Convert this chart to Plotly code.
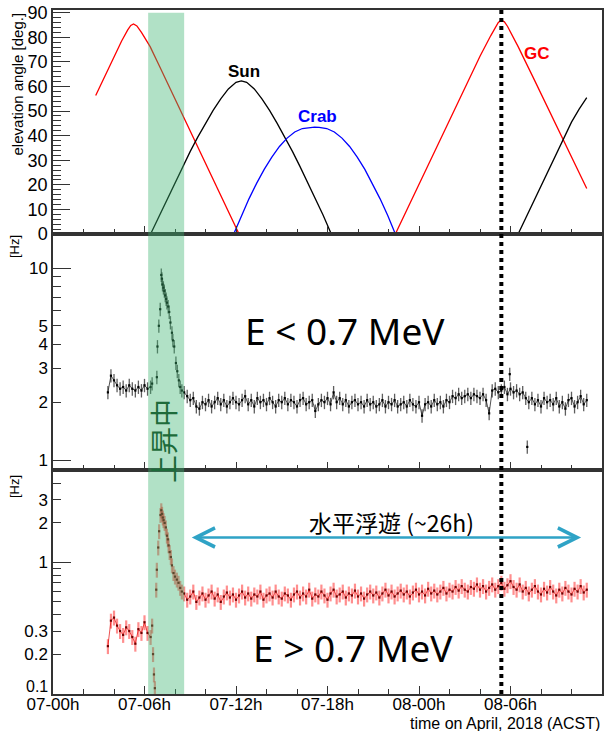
import numpy as np
import plotly.graph_objects as go

# ---------------- elevation angles (hours since 07 Apr 00:00 ACST, degrees) -------------
gc_t1 = [2.8, 3.5, 4.0, 4.5, 4.9, 5.1, 5.28, 5.5, 5.8, 6.37, 7.0, 8.0, 9.0, 10.0, 11.0, 12.2]
gc_v1 = [56.3, 65.5, 72.0, 78.5, 83.0, 84.8, 85.4, 84.6, 82.0, 76.2, 68.0, 55.0, 41.7, 28.7, 15.7, 0.0]
gc_t2 = [22.45, 23.0, 24.0, 25.0, 26.0, 27.0, 28.0, 28.7, 29.0, 29.2, 29.4, 29.6, 29.8, 30.1, 30.5,
         31.5, 32.5, 33.3, 34.0, 35.0]
gc_v2 = [0.0, 7.2, 20.3, 33.4, 46.5, 59.5, 72.3, 80.6, 84.0, 86.0, 86.9, 86.3, 84.5, 81.0, 76.2,
         63.5, 50.8, 40.6, 31.7, 18.5]
sun_t1 = [6.4, 7.0, 7.5, 8.0, 8.5, 9.0, 9.5, 10.0, 10.5, 11.0, 11.5, 12.0, 12.35, 12.7, 13.2, 13.7,
          14.2, 14.7, 15.2, 15.7, 16.2, 16.7, 17.2, 17.7, 18.25]
sun_v1 = [0.0, 7.8, 14.5, 21.0, 27.4, 33.6, 39.5, 45.0, 50.3, 55.0, 59.0, 61.7, 62.3, 61.7, 59.0, 55.0,
          50.3, 45.0, 39.5, 33.6, 27.4, 21.0, 14.5, 7.8, 0.0]
sun_t2 = [30.5, 31.5, 32.5, 33.3, 34.0, 34.5, 35.0]
sun_v2 = [0.0, 13.2, 26.2, 36.8, 45.5, 50.8, 55.5]
crab_t = [11.85, 12.35, 12.85, 13.35, 13.85, 14.35, 14.85, 15.35, 15.85, 16.35, 16.85, 17.15, 17.45,
          17.95, 18.45, 18.95, 19.45, 19.95, 20.45, 20.95, 21.45, 21.95, 22.45]
crab_v = [0.0, 7.5, 14.3, 20.6, 26.3, 31.3, 35.6, 39.0, 41.5, 42.9, 43.4, 43.5, 43.4, 42.9, 41.5, 39.0,
          35.6, 31.3, 26.3, 20.6, 14.3, 7.5, 0.0]

# ---------------- count rates [Hz] ----------------
t_pre = [3.6, 3.8, 4.0, 4.2, 4.4, 4.6, 4.8, 5.0, 5.2, 5.4, 5.6, 5.8, 6.0, 6.2, 6.4]
low_pre = [2.25, 2.75, 2.6, 2.45, 2.35, 2.4, 2.3, 2.45, 2.35, 2.3, 2.4, 2.3, 2.45, 2.35, 2.4]
high_pre = [0.23, 0.36, 0.38, 0.33, 0.30, 0.28, 0.32, 0.30, 0.27, 0.24, 0.31, 0.29, 0.35, 0.29, 0.27]

t_asc_low = [6.5, 6.81, 6.85, 6.94, 7.03, 7.1, 7.14, 7.18, 7.24, 7.3, 7.36, 7.42, 7.47, 7.55, 7.62,
             7.7, 7.8, 7.86, 7.95, 8.06, 8.15, 8.25, 8.34, 8.45]
low_asc = [2.5, 2.7, 3.9, 5.0, 6.1, 9.2, 8.8, 8.2, 7.9, 7.6, 7.2, 6.9, 6.6, 6.3, 5.9,
           5.2, 4.6, 4.2, 3.9, 3.2, 2.9, 2.6, 2.4, 2.3]
t_asc_high = [6.5, 6.56, 6.62, 6.68, 6.77, 6.81, 6.9, 6.96, 7.05, 7.1, 7.15, 7.2, 7.25, 7.32, 7.4,
              7.47, 7.53, 7.58, 7.65, 7.73, 7.8, 7.9, 8.0, 8.12, 8.23, 8.34, 8.45]
high_asc = [0.33, 0.2, 0.14, 0.11, 0.62, 0.88, 1.3, 1.73, 2.3, 2.5, 2.35, 2.2, 2.1, 2.0, 1.85,
            1.6, 1.5, 1.35, 1.2, 1.1, 0.95, 0.83, 0.78, 0.74, 0.7, 0.64, 0.6]

# level flight, 0.2 h bins from 8.6 h
low_float = [
    2.25, 2.15, 2.05, 2.10, 1.90, 1.85, 2.00, 1.95, 2.05, 1.90,
    2.00, 2.10, 1.95, 2.05, 1.90, 2.00, 2.10, 2.00, 1.95, 2.05,
    2.15, 1.95, 2.05, 1.90, 2.10, 2.00, 2.05, 1.95, 2.10, 2.00,
    1.90, 2.05, 2.00, 2.10, 1.95, 2.05, 2.00, 1.90, 2.05, 2.10,
    1.95, 2.00, 2.05, 1.80, 1.95, 2.05, 2.00, 2.10, 1.95, 2.25,
    2.00, 2.10, 1.95, 2.05, 1.90, 2.00, 2.05, 1.95, 2.00, 1.90,
    2.05, 1.95, 2.00, 1.90, 1.95, 2.05, 1.90, 2.00, 1.95, 2.05,
    1.90, 1.95, 2.00, 1.90, 2.05, 1.95, 1.90, 2.00, 1.70, 1.95,
    2.00, 1.90, 2.05, 1.95, 2.00, 1.90, 2.05, 2.00, 2.15, 2.10,
    2.20, 2.10, 2.15, 2.20, 2.10, 2.20, 2.15, 2.10, 2.20, 2.05,
    1.75, 2.30, 2.35, 2.25, 2.30, 2.40, 2.20, 2.35, 2.25, 2.30,
    2.20, 2.25, 2.10, 2.00, 2.10, 1.95, 2.05, 1.90, 2.10, 2.00,
    2.05, 1.95, 2.10, 1.90, 2.00, 1.85, 2.05, 2.10, 1.90, 2.00,
    2.15, 1.95, 2.05]
# isolated outlying bins during level flight (E < 0.7 MeV)
t_out_low = [29.95, 31.1]
low_out = [2.8, 1.17]

high_float = [
    0.58, 0.52, 0.55, 0.60, 0.50, 0.54, 0.58, 0.52, 0.56, 0.60,
    0.53, 0.57, 0.50, 0.55, 0.59, 0.54, 0.57, 0.52, 0.56, 0.60,
    0.54, 0.58, 0.53, 0.57, 0.55, 0.60, 0.52, 0.56, 0.58, 0.54,
    0.60, 0.55, 0.53, 0.58, 0.56, 0.52, 0.57, 0.60, 0.54, 0.58,
    0.55, 0.62, 0.53, 0.57, 0.55, 0.60, 0.56, 0.52, 0.58, 0.62,
    0.55, 0.57, 0.60, 0.54, 0.58, 0.56, 0.61, 0.55, 0.58, 0.53,
    0.57, 0.60, 0.56, 0.59, 0.54, 0.58, 0.62, 0.56, 0.60, 0.55,
    0.58, 0.61, 0.57, 0.60, 0.55, 0.59, 0.62, 0.57, 0.60, 0.56,
    0.63, 0.58, 0.61, 0.57, 0.60, 0.64, 0.58, 0.62, 0.60, 0.65,
    0.61, 0.66, 0.62, 0.60, 0.65, 0.63, 0.68, 0.62, 0.66, 0.60,
    0.64, 0.68, 0.62, 0.66, 0.70, 0.63, 0.67, 0.72, 0.65, 0.62,
    0.68, 0.60, 0.64, 0.58, 0.62, 0.66, 0.60, 0.57, 0.63, 0.59,
    0.65, 0.60, 0.56, 0.62, 0.58, 0.64, 0.60, 0.57, 0.63, 0.60,
    0.66, 0.59, 0.62]
t_float = list(np.round(8.6 + 0.2 * np.arange(len(low_float)), 2))

LOW_REL_ERR = 0.08
HIGH_REL_ERR = 0.13

x_tickvals = [0, 6, 12, 18, 24, 30, 36]
x_ticktext = ["07-00h", "07-06h", "07-12h", "07-18h", "08-00h", "08-06h", "08-12h"]
launch_window = [6.24, 8.6]
t_marker = 29.4

W, H = 616, 731
fig = go.Figure()

line_w = 1.3
for tt, vv, col in [(gc_t1, gc_v1, "red"), (gc_t2, gc_v2, "red"), (sun_t1, sun_v1, "black"),
                    (sun_t2, sun_v2, "black"), (crab_t, crab_v, "blue")]:
    fig.add_trace(go.Scatter(x=tt, y=vv, mode="lines", line=dict(color=col, width=line_w),
                             xaxis="x", yaxis="y"))


def rate_trace(t, v, rel, ax, ay, connected, lcol, ecol, mcol, ethick):
    return go.Scatter(
        x=t, y=v, mode="lines+markers" if connected else "markers", xaxis=ax, yaxis=ay,
        line=dict(color=lcol, width=0.8),
        marker=dict(color=mcol, size=2.2, symbol="square"),
        error_y=dict(type="data", array=[rel * a for a in v], visible=True, width=0,
                     thickness=ethick, color=ecol))


for t, v, conn in [(t_pre, low_pre, True), (t_asc_low, low_asc, False), (t_float, low_float, True),
                   (t_out_low, low_out, False)]:
    fig.add_trace(rate_trace(t, v, LOW_REL_ERR, "x2", "y2", conn, "rgba(0,0,0,0.85)",
                             "rgba(40,40,40,0.75)", "black", 1.3))
for t, v, conn in [(t_pre, high_pre, True), (t_asc_high, high_asc, False), (t_float, high_float, True)]:
    fig.add_trace(rate_trace(t, v, HIGH_REL_ERR, "x3", "y3", conn, "rgba(225,0,0,0.85)",
                             "rgba(255,50,50,0.55)", "rgb(110,0,0)", 2.2))

# carriers for the long-tick overlay axes
fig.add_trace(go.Scatter(x=[None], y=[None], xaxis="x2", yaxis="y4", showlegend=False))
fig.add_trace(go.Scatter(x=[None], y=[None], xaxis="x3", yaxis="y5", showlegend=False))

frame = "#333333"
d_top = [0.6725, 1.0]
d_mid = [0.3275, 0.6725]
d_bot = [0.0, 0.3275]
r_mid = [-0.052, 1.177]
r_bot = [-1.003, 0.705]


def xax(anchor, labels):
    return dict(range=[0, 36], domain=[0, 1], anchor=anchor, tickmode="array",
                tickvals=x_tickvals, ticktext=x_ticktext, showticklabels=labels,
                ticks="inside", ticklen=8, tickwidth=1, tickcolor=frame, ticklabelstandoff=-6,
                minor=dict(tickmode="array", tickvals=list(range(0, 37, 2)), ticks="inside",
                           ticklen=5, tickwidth=1, tickcolor=frame),
                showline=True, mirror=True, linecolor=frame, linewidth=1.5,
                showgrid=False, zeroline=False, automargin=False,
                tickfont=dict(size=17, family="Liberation Sans, Arial", color="black"))


fig.update_layout(
    width=W, height=H, template="none",
    margin=dict(l=53, r=14, t=10, b=37, pad=0),
    plot_bgcolor="white", paper_bgcolor="white", showlegend=False,
    font=dict(family="Liberation Sans, Arial", size=17, color="black"),
    xaxis=xax("y", False), xaxis2=xax("y2", False), xaxis3=xax("y3", True),
    yaxis=dict(domain=d_top, anchor="x", range=[0, 91.1], tickmode="array",
               tickvals=list(range(0, 91, 10)), ticks="inside", ticklen=17, tickwidth=1, tickcolor=frame,
               minor=dict(tickmode="array", tickvals=list(range(0, 91, 2)), ticks="inside",
                          ticklen=8, tickwidth=1, tickcolor=frame),
               showline=True, mirror=True, linecolor=frame, linewidth=1.5,
               showgrid=False, zeroline=False, automargin=False,
               tickfont=dict(size=18)),
    yaxis2=dict(domain=d_mid, anchor="x2", type="log", range=r_mid, tickmode="array",
                tickvals=[1, 2, 3, 4, 5, 10], ticktext=["1", "2", "3", "4", "5", "10"],
                ticks="inside", ticklen=8, tickwidth=1, tickcolor=frame,
                minor=dict(tickmode="array", tickvals=[6, 7, 8, 9], ticks="inside",
                           ticklen=8, tickwidth=1, tickcolor=frame),
                showline=True, mirror=True, linecolor=frame, linewidth=1.5,
                showgrid=False, zeroline=False, automargin=False, tickfont=dict(size=17)),
    yaxis3=dict(domain=d_bot, anchor="x3", type="log", range=r_bot, tickmode="array",
                tickvals=[0.1, 0.2, 0.3, 1, 2, 3], ticktext=["", "0.2", "0.3", "1", "2", "3"],
                ticks="inside", ticklen=8, tickwidth=1, tickcolor=frame,
                minor=dict(tickmode="array", tickvals=[0.4, 0.5, 0.6, 0.7, 0.8, 0.9, 4],
                           ticks="inside", ticklen=8, tickwidth=1, tickcolor=frame),
                showline=True, mirror=True, linecolor=frame, linewidth=1.5,
                showgrid=False, zeroline=False, automargin=False, tickfont=dict(size=17)),
    yaxis4=dict(overlaying="y2", anchor="x2", side="left", type="log", range=r_mid,
                tickmode="array", tickvals=[1, 10], ticks="inside", ticklen=18, tickwidth=1,
                tickcolor=frame, showticklabels=False, showline=False, showgrid=False, zeroline=False),
    yaxis5=dict(overlaying="y3", anchor="x3", side="left", type="log", range=r_bot,
                tickmode="array", tickvals=[0.1, 1], ticks="inside", ticklen=18, tickwidth=1,
                tickcolor=frame, showticklabels=False, showline=False, showgrid=False, zeroline=False),
)

# launch window band and marker line
fig.add_shape(type="rect", xref="x", yref="paper", x0=launch_window[0], x1=launch_window[1],
              y0=0, y1=0.996, fillcolor="rgba(60,180,113,0.4)", line=dict(width=0), layer="above")
fig.add_shape(type="line", xref="x", yref="paper", x0=t_marker, x1=t_marker, y0=0, y1=1,
              line=dict(color="black", width=4, dash="dot"), layer="above")


def label(text, x, y, size, color="black", family=None, angle=0, xa="center", ya="middle"):
    f = dict(size=size, color=color)
    if family:
        f["family"] = family
    return dict(text=text, x=x, y=y, xref="paper", yref="paper", xanchor=xa, yanchor=ya,
                textangle=angle, showarrow=False, font=f)


ann = [
    label("elevation angle [deg.]", -0.0638, 1.0, 15, angle=-90, ya="top"),
    label("[Hz]", -0.071, 0.6535, 13, angle=-90),
    label("[Hz]", -0.071, 0.3026, 13, angle=-90),
    label("time on April, 2018 (ACST)", 1.0, -0.0435, 16, xa="right"),
    label("0.1", -0.0055, 0.0115, 16, xa="right"),
    label("<b>Sun</b>", 0.348, 0.9108, 17),
    label("<b>Crab</b>", 0.481, 0.845, 17, color="blue"),
    label("<b>GC</b>", 0.8816, 0.937, 17, color="red"),
    label("E < 0.7 MeV", 0.532, 0.532, 37, family="Noto Sans"),
    label("E > 0.7 MeV", 0.5464, 0.0673, 37, family="Noto Sans"),
    label("水平浮遊 (~26h)", 0.6157, 0.2515, 23, family="Noto Sans CJK JP"),
    label("上昇中", 0.2004, 0.3699, 28, color="#1d6b3a", family="Noto Sans CJK JP", angle=-90),
]
# double-headed arrow for level flight
ann.append(dict(text="", x=34.63, y=np.log10(1.55), xref="x3", yref="y3",
                ax=9.0, ay=np.log10(1.55), axref="x3", ayref="y3", showarrow=True,
                arrowside="end+start", arrowhead=5, startarrowhead=5, arrowsize=1.5,
                startarrowsize=1.5, arrowwidth=2.5, arrowcolor="#2fa3c6"))
fig.update_layout(annotations=ann)

fig.write_html("out.html")
